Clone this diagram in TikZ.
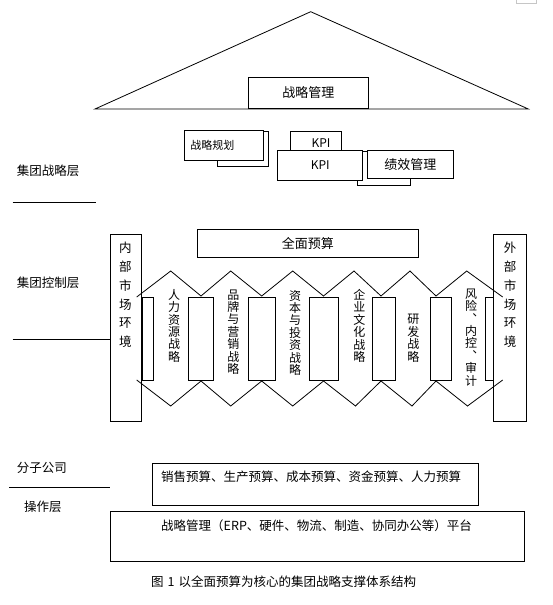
\documentclass[tikz,border=0pt]{standalone}
\usepackage{fontspec}
\setmainfont{Noto Sans CJK SC}
\begin{document}
\begin{tikzpicture}[x=1pt,y=-1pt,
  box/.style={draw, line width=0.8pt, fill=white, inner sep=0pt, outer sep=0pt},
  lbl/.style={font=\fontsize{12.5}{15}\selectfont, inner sep=0pt, anchor=west},
  big/.style={font=\fontsize{13}{15}\selectfont},
  vtext/.style={align=center, inner sep=0pt, font=\fontsize{12}{12.4}\selectfont},
  envtext/.style={align=center, inner sep=0pt, font=\fontsize{12.5}{18.7}\selectfont},
  thin/.style={line width=0.8pt},
  strut/.style={box, minimum width=#1, minimum height=83pt}
]
\useasboundingbox (0,0) rectangle (553,605);
\fill[white] (0,0) rectangle (553,605);
% stray grey frame edge at the top right
\draw[gray!45, line width=0.8pt] (516,-3) -- (516,3) -- (536.7,3) -- (536.7,-3);

% roof
\draw[thin] (95,109) -- (310.7,11.7) -- (528.3,109) -- cycle;
\node[box, big, minimum width=120pt, minimum height=31.2pt] (smgmt) at (308.3,92.9) {战略管理};

% strategy layer boxes
\node[box, minimum width=51pt, minimum height=34.3pt] (planback) at (242.8,148.85) {};
\node[box, minimum width=79pt, minimum height=30pt, text width=67pt, inner xsep=6pt, align=left,
      font=\fontsize{11}{13}\selectfont] (plan) at (223.8,145) {战略规划};
\node[box, minimum width=51.7pt, minimum height=29pt] (kpiback) at (315.85,145.5) {};
\node[inner sep=0pt, font=\fontsize{12}{14}\selectfont] (kpibacktext) at (321,143) {KPI};
\node[box, minimum width=53pt, minimum height=34pt] (perfback) at (384.2,168) {};
\node[box, minimum width=85pt, minimum height=30pt, font=\fontsize{12}{14}\selectfont] (kpi) at (320.2,165) {KPI};
\node[box, big, minimum width=86pt, minimum height=28.3pt] (perf) at (410.3,164.15) {绩效管理};

% control layer
\node[box, big, minimum width=221pt, minimum height=28.3pt] (budget) at (307.8,243.15) {全面预算};
\node[box, minimum width=31.7pt, minimum height=186.7pt] (lbox) at (125.85,327.65) {};
\node[box, minimum width=32.7pt, minimum height=187.7pt] (rbox) at (509.65,327.85) {};
\node[envtext] (lboxtext) at (125.3,295) {内\\部\\市\\场\\环\\境};
\node[envtext] (rboxtext) at (510,295) {外\\部\\市\\场\\环\\境};

% arrow heads (zigzags)
\draw[thin] (136.7,297) -- (170.7,271) -- (201,296) -- (230.7,271) -- (261.7,296) -- (292.7,271)
  -- (323.5,296) -- (354,271) -- (381,296) -- (410,271) -- (436,296) -- (466.7,271) -- (502.7,297);
\draw[thin] (136.7,380) -- (170.7,406) -- (201,381) -- (230.7,406) -- (261.7,381) -- (292.7,406)
  -- (323.5,381) -- (355.5,406) -- (381,381) -- (412,406) -- (436,381) -- (467.5,406) -- (502.7,380);
\draw[thin] (lbox.north east) -- (lbox.south east);
\draw[thin] (rbox.north west) -- (rbox.south west);

% struts between the arrows
\node[strut=11.5pt] (r0) at (147.75,338.5) {};
\node[strut=25.5pt] (r1) at (201.05,338.5) {};
\node[strut=27.2pt] (r2) at (261.9,338.5) {};
\node[strut=29pt]   (r3) at (323.8,338.5) {};
\node[strut=23pt]   (r4) at (384,338.5) {};
\node[strut=21.5pt] (r5) at (440.75,338.5) {};
\node[strut=8pt]    (r6) at (489.3,338.5) {};

% arrow texts
\node[vtext] (a1) at (174,325.7) {人\\力\\资\\源\\战\\略};
\node[vtext] (a2) at (233.3,332) {品\\牌\\与\\营\\销\\战\\略};
\node[vtext] (a3) at (295,332.8) {资\\本\\与\\投\\资\\战\\略};
\node[vtext] (a4) at (359.3,325.8) {企\\业\\文\\化\\战\\略};
\node[vtext] (a5) at (413.3,338.3) {研\\发\\战\\略};
\node[vtext] (a6) at (471,337.5) {风\\险\\︑\\内\\控\\︑\\审\\计};

% subsidiary / operation layer
\node[box, minimum width=326pt, minimum height=41.7pt] (sales) at (315.3,484.15) {};
\node[lbl] (salestext) at (161,476.7) {销售预算、生产预算、成本预算、资金预算、人力预算};
\node[box, minimum width=414.3pt, minimum height=49.3pt] (platform) at (317.15,536.35) {};
\node[lbl] (platformtext) at (161,526) {战略管理（ERP、硬件、物流、制造、协同办公等）平台};

% layer labels and separators
\node[lbl] (L1) at (16.7,170.7) {集团战略层};
\coordinate (s1a) at (12.7,202.7);
\coordinate (s1b) at (95.7,202.7);
\draw[thin] (s1a) -- (s1b);
\node[lbl] (L2) at (16.7,282.7) {集团控制层};
\coordinate (s2a) at (12.7,339);
\draw[thin] (s2a) -- (s2a -| lbox.west);
\node[lbl] (L3) at (16.7,468.3) {分子公司};
\coordinate (s3a) at (9,487.3);
\coordinate (s3b) at (110,487.3);
\draw[thin] (s3a) -- (s3b);
\node[lbl] (L4) at (24,506.7) {操作层};

% caption
\node[lbl] (cap) at (151,581.7) {图\hspace{4pt}1\hspace{4pt}以全面预算为核心的集团战略支撑体系结构};
\end{tikzpicture}
\end{document}
